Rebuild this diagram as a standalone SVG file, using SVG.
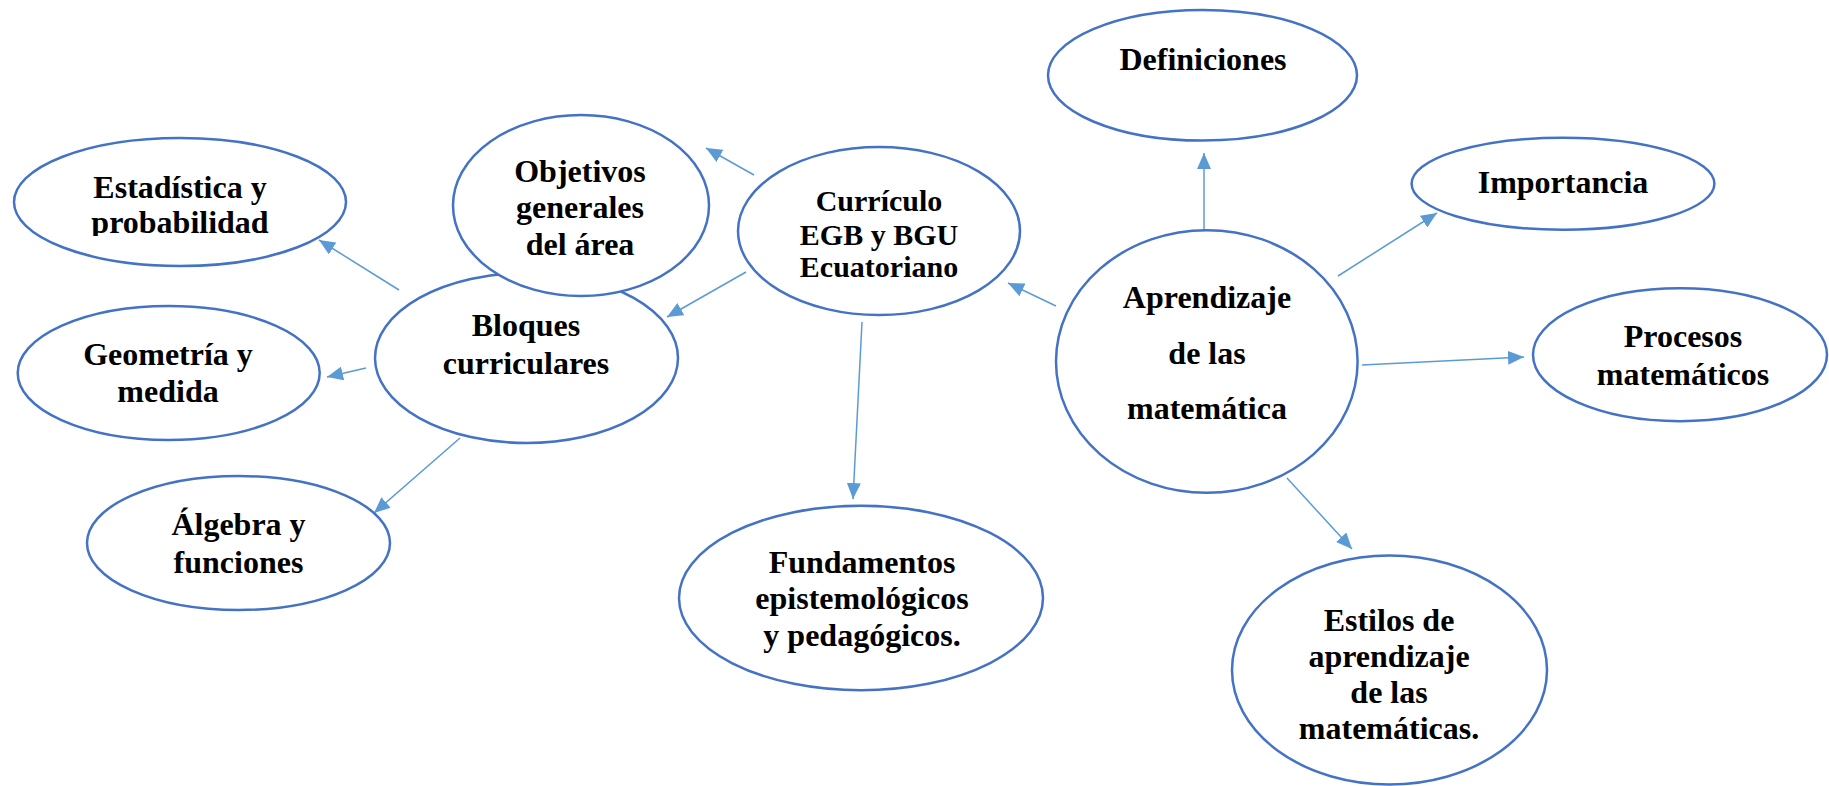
<svg xmlns="http://www.w3.org/2000/svg" width="1829" height="786" viewBox="0 0 1829 786">
<style>
.n{fill:#fff;stroke:#4472C4;stroke-width:2.5}
.t{font-family:"Liberation Serif","Times New Roman",serif;font-weight:bold;font-size:32px;fill:#000;text-anchor:middle}
.s{font-size:30px}
.c{stroke:#5B9BD5;stroke-width:1.5;fill:none;marker-end:url(#ah)}
</style>
<defs>
<marker id="ah" markerUnits="userSpaceOnUse" markerWidth="16" markerHeight="14" refX="16" refY="7" orient="auto">
<path d="M0,0 L16,7 L0,14 z" fill="#5B9BD5"/>
</marker>
<clipPath id="clipEst"><rect x="0" y="130" width="400" height="106"/></clipPath>
</defs>
<rect width="1829" height="786" fill="#fff"/>
<g id="connectors">
<line class="c" x1="754" y1="175" x2="706" y2="148"/>
<line class="c" x1="746" y1="272" x2="667" y2="317"/>
<line class="c" x1="399" y1="290" x2="319" y2="240"/>
<line class="c" x1="366" y1="368" x2="327" y2="377"/>
<line class="c" x1="460" y1="438" x2="374" y2="513"/>
<line class="c" x1="862" y1="322" x2="853" y2="499"/>
<line class="c" x1="1056" y1="306" x2="1008" y2="283"/>
<line class="c" x1="1204" y1="235" x2="1204" y2="153"/>
<line class="c" x1="1338" y1="276" x2="1437" y2="213"/>
<line class="c" x1="1362" y1="365" x2="1524" y2="357"/>
<line class="c" x1="1287" y1="478" x2="1352" y2="549"/>
</g>
<g id="estadistica">
<ellipse class="n" cx="180" cy="202" rx="166" ry="64"/>
<g clip-path="url(#clipEst)">
<text class="t" x="180" y="198">Estadística y</text>
<text class="t" x="180" y="233">probabilidad</text>
</g>
</g>
<g id="bloques">
<ellipse class="n" cx="526.5" cy="358" rx="151.5" ry="85"/>
<text class="t" x="526" y="336">Bloques</text>
<text class="t" x="526" y="374">curriculares</text>
</g>
<g id="objetivos">
<ellipse class="n" cx="581" cy="205.5" rx="128" ry="90.5"/>
<text class="t" x="580" y="182">Objetivos</text>
<text class="t" x="580" y="218">generales</text>
<text class="t" x="580" y="255">del área</text>
</g>
<g id="geometria">
<ellipse class="n" cx="168.7" cy="373" rx="151" ry="67"/>
<text class="t" x="168" y="365">Geometría y</text>
<text class="t" x="168" y="402">medida</text>
</g>
<g id="algebra">
<ellipse class="n" cx="238.5" cy="543" rx="151.5" ry="67"/>
<text class="t" x="238.5" y="535">Álgebra y</text>
<text class="t" x="238.5" y="573">funciones</text>
</g>
<g id="curriculo">
<ellipse class="n" cx="879" cy="231" rx="141" ry="84"/>
<text class="t s" x="879" y="211">Currículo</text>
<text class="t s" x="879" y="245">EGB y BGU</text>
<text class="t s" x="879" y="277">Ecuatoriano</text>
</g>
<g id="fundamentos">
<ellipse class="n" cx="861" cy="598" rx="182" ry="92.3"/>
<text class="t" x="862" y="573">Fundamentos</text>
<text class="t" x="862" y="609">epistemológicos</text>
<text class="t" x="862" y="646">y pedagógicos.</text>
</g>
<g id="definiciones">
<ellipse class="n" cx="1202.5" cy="75.3" rx="154.5" ry="65.3"/>
<text class="t" x="1203" y="70">Definiciones</text>
</g>
<g id="aprendizaje">
<ellipse class="n" cx="1206.8" cy="361.5" rx="150.8" ry="131.3"/>
<text class="t" x="1207" y="308">Aprendizaje</text>
<text class="t" x="1207" y="364">de las</text>
<text class="t" x="1207" y="419">matemática</text>
</g>
<g id="importancia">
<ellipse class="n" cx="1563" cy="183.7" rx="151.4" ry="46"/>
<text class="t" x="1563" y="193">Importancia</text>
</g>
<g id="procesos">
<ellipse class="n" cx="1680" cy="354.7" rx="147" ry="66.5"/>
<text class="t" x="1683" y="347">Procesos</text>
<text class="t" x="1683" y="385">matemáticos</text>
</g>
<g id="estilos">
<ellipse class="n" cx="1389.5" cy="670" rx="157.5" ry="114.5"/>
<text class="t" x="1389" y="631">Estilos de</text>
<text class="t" x="1389" y="667">aprendizaje</text>
<text class="t" x="1389" y="703">de las</text>
<text class="t" x="1389" y="739">matemáticas.</text>
</g>
</svg>
